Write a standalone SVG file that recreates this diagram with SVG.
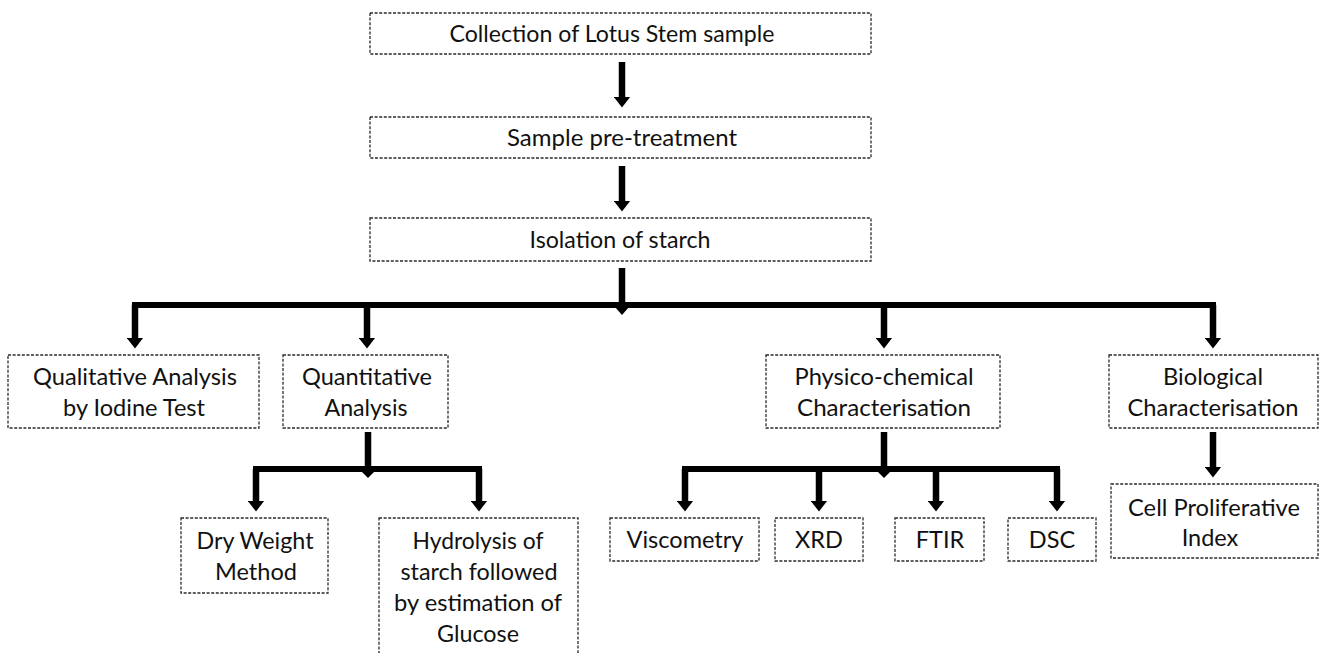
<svg xmlns="http://www.w3.org/2000/svg" width="1323" height="653" viewBox="0 0 1323 653">
  <style>
    .box { fill: #ffffff; stroke: #2a2a2a; stroke-width: 1.3; stroke-dasharray: 3 1.6; }
    .t { font-family: Lato, "Open Sans", "Liberation Sans", sans-serif; font-size: 23.5px; fill: #111111; text-anchor: middle; }
    .ln { fill: none; stroke: #000000; stroke-width: 6.5; }
    .bar { fill: none; stroke: #000000; stroke-width: 6; stroke-linecap: square; }
    .tri { fill: #000000; }
  </style>
  <defs>
    <marker id="ah" viewBox="0 0 11 17" refX="0.5" refY="8.5" markerWidth="11" markerHeight="17" markerUnits="userSpaceOnUse" orient="auto">
      <path d="M0,0 L11,8.5 L0,17 Z" fill="#000000"/>
    </marker>
  </defs>
  <rect width="1323" height="653" fill="#ffffff"/>

  <g id="connectors">
    <path class="ln" d="M622,62 V97" marker-end="url(#ah)"/>
    <path class="ln" d="M622,166 V201" marker-end="url(#ah)"/>
    <path class="ln" d="M622,268 V305"/>
    <path class="bar" d="M135,305 H1213"/>
    <polygon class="tri" points="615,307 629,307 622,315"/>
    <path class="ln" d="M135,305 V338" marker-end="url(#ah)"/>
    <path class="ln" d="M367,305 V338" marker-end="url(#ah)"/>
    <path class="ln" d="M884,305 V338" marker-end="url(#ah)"/>
    <path class="ln" d="M1213,305 V338" marker-end="url(#ah)"/>

    <path class="ln" d="M368,432 V469"/>
    <path class="bar" d="M256,469 H479"/>
    <polygon class="tri" points="361,471 375,471 368,478"/>
    <path class="ln" d="M256,469 V501" marker-end="url(#ah)"/>
    <path class="ln" d="M479,469 V501" marker-end="url(#ah)"/>

    <path class="ln" d="M884,432 V469"/>
    <path class="bar" d="M685,469 H1057"/>
    <polygon class="tri" points="877,471 891,471 884,478"/>
    <path class="ln" d="M685,469 V501" marker-end="url(#ah)"/>
    <path class="ln" d="M819,469 V501" marker-end="url(#ah)"/>
    <path class="ln" d="M936,469 V501" marker-end="url(#ah)"/>
    <path class="ln" d="M1057,469 V501" marker-end="url(#ah)"/>

    <path class="ln" d="M1213,432 V467" marker-end="url(#ah)"/>
  </g>

  <g id="collection">
    <rect class="box" x="370" y="13" width="501" height="41"/>
    <text class="t" x="612" y="42" textLength="325" lengthAdjust="spacingAndGlyphs">Collection of Lotus Stem sample</text>
  </g>
  <g id="pretreatment">
    <rect class="box" x="370" y="117" width="501" height="41"/>
    <text class="t" x="622" y="146" textLength="230" lengthAdjust="spacingAndGlyphs">Sample pre-treatment</text>
  </g>
  <g id="isolation">
    <rect class="box" x="370" y="218" width="501" height="43"/>
    <text class="t" x="620" y="248" textLength="181" lengthAdjust="spacingAndGlyphs">Isolation of starch</text>
  </g>

  <g id="qualitative">
    <rect class="box" x="8" y="355" width="251" height="73"/>
    <text class="t" x="135" y="385" textLength="204" lengthAdjust="spacingAndGlyphs">Qualitative Analysis</text>
    <text class="t" x="134" y="416" textLength="142" lengthAdjust="spacingAndGlyphs">by Iodine Test</text>
  </g>
  <g id="quantitative">
    <rect class="box" x="283" y="355" width="165" height="73"/>
    <text class="t" x="367" y="385" textLength="130" lengthAdjust="spacingAndGlyphs">Quantitative</text>
    <text class="t" x="366" y="416" textLength="83" lengthAdjust="spacingAndGlyphs">Analysis</text>
  </g>
  <g id="physico">
    <rect class="box" x="766" y="355" width="234" height="73"/>
    <text class="t" x="884" y="385" textLength="179" lengthAdjust="spacingAndGlyphs">Physico-chemical</text>
    <text class="t" x="884" y="416" textLength="174" lengthAdjust="spacingAndGlyphs">Characterisation</text>
  </g>
  <g id="biological">
    <rect class="box" x="1109" y="355" width="209" height="73"/>
    <text class="t" x="1213" y="385" textLength="100" lengthAdjust="spacingAndGlyphs">Biological</text>
    <text class="t" x="1213" y="416" textLength="171" lengthAdjust="spacingAndGlyphs">Characterisation</text>
  </g>

  <g id="dryweight">
    <rect class="box" x="181" y="518" width="147" height="75"/>
    <text class="t" x="255" y="549" textLength="117" lengthAdjust="spacingAndGlyphs">Dry Weight</text>
    <text class="t" x="256" y="580" textLength="82" lengthAdjust="spacingAndGlyphs">Method</text>
  </g>
  <g id="hydrolysis">
    <rect class="box" x="379" y="518" width="199" height="145"/>
    <text class="t" x="478" y="549" textLength="131" lengthAdjust="spacingAndGlyphs">Hydrolysis of</text>
    <text class="t" x="479" y="580" textLength="157" lengthAdjust="spacingAndGlyphs">starch followed</text>
    <text class="t" x="478" y="611" textLength="168" lengthAdjust="spacingAndGlyphs">by estimation of</text>
    <text class="t" x="478" y="642" textLength="82" lengthAdjust="spacingAndGlyphs">Glucose</text>
  </g>

  <g id="viscometry">
    <rect class="box" x="610" y="518" width="149" height="43"/>
    <text class="t" x="685" y="548" textLength="117" lengthAdjust="spacingAndGlyphs">Viscometry</text>
  </g>
  <g id="xrd">
    <rect class="box" x="775" y="518" width="88" height="43"/>
    <text class="t" x="819" y="548">XRD</text>
  </g>
  <g id="ftir">
    <rect class="box" x="895" y="518" width="89" height="43"/>
    <text class="t" x="940" y="548">FTIR</text>
  </g>
  <g id="dsc">
    <rect class="box" x="1008" y="518" width="88" height="43"/>
    <text class="t" x="1052" y="548">DSC</text>
  </g>
  <g id="cellprolif">
    <rect class="box" x="1111" y="484" width="207" height="74"/>
    <text class="t" x="1214" y="516" textLength="172" lengthAdjust="spacingAndGlyphs">Cell Proliferative</text>
    <text class="t" x="1210" y="546">Index</text>
  </g>
</svg>
